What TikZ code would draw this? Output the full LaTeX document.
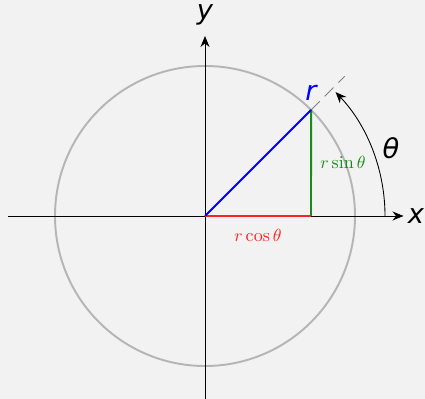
\documentclass[tikz,border=0pt]{standalone}
\usepackage{amsmath}
\usepackage{fontspec}
\usepackage{tikz}
\usetikzlibrary{arrows.meta, positioning, calc, backgrounds}
\newfontfamily\lblfont{DejaVu Sans}
\definecolor{bggray}{HTML}{F2F2F2}
\definecolor{circgray}{HTML}{B5B5B5}
\definecolor{radblue}{HTML}{0000FF}
\definecolor{cosred}{HTML}{FF2020}
\definecolor{singreen}{HTML}{178A17}

\begin{document}
\begin{tikzpicture}[
    axis/.style={-{Stealth[length=2.2mm, width=1.8mm]}, line width=0.5pt},
    biglabel/.style={font=\lblfont\itshape\fontsize{15.5}{18}\selectfont, inner sep=1pt},
    smalllabel/.style={font=\fontsize{10.3}{12}\selectfont, inner sep=1pt},
    arrow/.style={-{Stealth[length=2.2mm, width=1.8mm]}, line width=0.5pt},
]
    % Frame
    \fill[bggray] (-4.1,-3.66) rectangle (4.4,4.32);
    \useasboundingbox (-4.1,-3.66) rectangle (4.4,4.32);

    % Points
    \coordinate (O) at (0,0);
    \coordinate (P) at (45:3);
    \coordinate (Px) at (2.12,0);
    \coordinate (Pext) at (45:3.95);
    \coordinate (xs) at (-3.94,0);
    \coordinate (xe) at (3.97,0);
    \coordinate (ys) at (0,-3.66);
    \coordinate (ye) at (0,3.6);

    % Circle
    \draw[circgray, line width=1.1pt] (O) circle (3);

    % Axes
    \draw[axis] (xs) -- (xe);
    \draw[axis] (ys) -- (ye);
    \node[biglabel] (xlab) at (4.22,0) {x};
    \node[biglabel] (ylab) at (0,4.02) {y};

    % Radius and projections
    \draw[gray, dashed, dash pattern=on 7pt off 4pt, line width=0.6pt] (P) -- (Pext);
    \draw[singreen, line width=1.1pt] (Px) -- (P);
    \draw[cosred, line width=1.1pt] (O) -- (Px);
    \draw[radblue, line width=1.1pt] (O) -- (P);

    \node[biglabel, text=radblue] (rlab) at (2.12,2.46) {r};
    \node[smalllabel, text=singreen] (sinlab) at (2.76,1.06) {$r\sin\theta$};
    \node[smalllabel, text=cosred] (coslab) at (1.06,-0.4) {$r\cos\theta$};

    % Angle
    \draw[arrow] (3.6,0) arc[start angle=0, end angle=43.5, radius=3.6];
    \node[biglabel] (thlab) at (3.72,1.36) {θ};
\end{tikzpicture}
\end{document}
